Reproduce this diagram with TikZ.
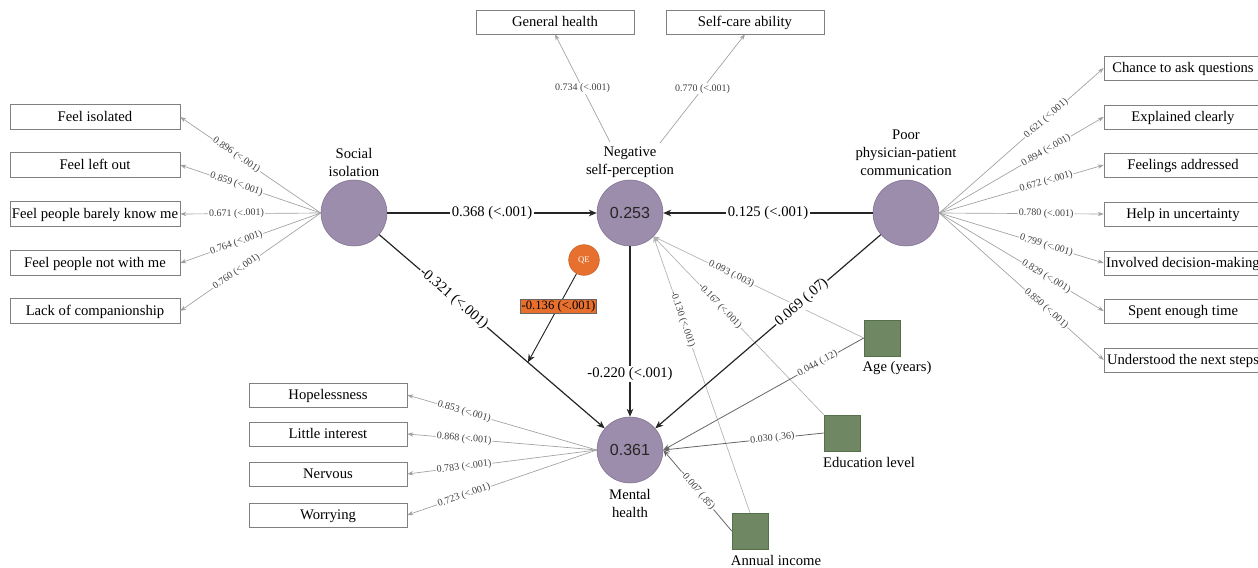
\documentclass[tikz,border=0pt]{standalone}
\usepackage{fontspec}
\setmainfont{Liberation Serif}
\newfontfamily\numfont{Liberation Sans}
\usepackage{xcolor}
\usetikzlibrary{arrows.meta,calc}

\definecolor{latfill}{HTML}{9B8DAB}
\definecolor{latline}{HTML}{7E6F8E}
\definecolor{obsfill}{HTML}{6F8763}
\definecolor{obsline}{HTML}{56704B}
\definecolor{qefill}{HTML}{E8702E}
\definecolor{loadgray}{HTML}{A0A0A0}

\tikzset{
  latent/.style={circle,draw=latline,fill=latfill,minimum size=49.5pt,inner sep=0pt,text=black!85,font=\numfont\fontsize{12}{14}\selectfont},
  item/.style={draw=gray,minimum width=127.5pt,minimum height=18.75pt,inner sep=0pt,text height=8.4pt,text depth=1.6pt,font=\fontsize{11}{13}\selectfont},
  smallitem/.style={item,minimum width=118.5pt,minimum height=18pt},
  covar/.style={draw=obsline,fill=obsfill,minimum size=27pt,inner sep=0pt},
  latname/.style={align=center,font=\fontsize{11}{13.5}\selectfont},
  covname/.style={font=\fontsize{11}{13}\selectfont},
  load/.style={draw=loadgray,line width=0.5pt,-{Stealth[length=4.5pt,width=3.2pt]}},
  loadlab/.style={fill=white,inner sep=0.8pt,text=black!75,font=\fontsize{7.5}{8}\selectfont},
  struct/.style={draw=black!85,line width=0.9pt,-{Stealth[length=6pt,width=5pt]}},
  structlab/.style={fill=white,inner sep=1pt,font=\fontsize{11}{13}\selectfont},
  ctrlneg/.style={draw=black!30,line width=0.5pt,-{Stealth[length=4.5pt,width=3.2pt]}},
  ctrlmh/.style={draw=black!60,line width=0.6pt,-{Stealth[length=5pt,width=4pt]}},
  qelab/.style={fill=qefill,draw=black!60,inner sep=1.2pt,font=\fontsize{9.5}{11}\selectfont}
}

\begin{document}
\begin{tikzpicture}[x=0.75pt,y=-0.75pt]
        \useasboundingbox (0,0) rectangle (1258,568);
        % latent variables
        \node[latent](soc) at (354,213) {};
        \node[latent](neg) at (630,213) {0.253};
        \node[latent](comm) at (906,213) {};
        \node[latent](mh) at (630,450) {0.361};
        \node[latname](soclab) at (354,162) {Social\\isolation};
        \node[latname](neglab) at (630,162) {Negative\\self-perception};
        \node[latname](commlab) at (906,153) {Poor\\physician-patient\\communication};
        \node[latname](mhlab) at (630,503) {Mental\\health};
        \coordinate(npa) at (610,142);
        \coordinate(npb) at (660,143);
        % indicators
        \node[item](fi) at (95,117) {Feel isolated};
        \node[item](flo) at (95,165) {Feel left out};
        \node[item](fbk) at (95,214) {Feel people barely know me};
        \node[item](fnw) at (95,263) {Feel people not with me};
        \node[item](lc) at (95,311) {Lack of companionship};
        \node[smallitem](gh) at (555,22) {General health};
        \node[smallitem](sca) at (745,22) {Self-care ability};
        \node[smallitem](caq) at (1183,68) {Chance to ask questions};
        \node[smallitem](ec) at (1183,117) {Explained clearly};
        \node[smallitem](fa) at (1183,165) {Feelings addressed};
        \node[smallitem](hu) at (1183,214) {Help in uncertainty};
        \node[smallitem](idm) at (1183,263) {Involved decision-making};
        \node[smallitem](set) at (1183,311) {Spent enough time};
        \node[smallitem](uns) at (1183,360) {Understood the next steps};
        \node[smallitem](hop) at (328,395) {Hopelessness};
        \node[smallitem](li) at (328,434) {Little interest};
        \node[smallitem](nerv) at (328,474) {Nervous};
        \node[smallitem](wor) at (328,515) {Worrying};
        % controls
        \node[covar](age) at (882,338) {};
        \node[covname](agelab) at (897,368) {Age (years)};
        \node[covar](edu) at (842,433) {};
        \node[covname](edulab) at (869,462) {Education level};
        \node[covar](inc) at (750,531) {};
        \node[covname](inclab) at (776,560) {Annual income};
        \node[circle,fill=qefill,draw=qefill!85!black,minimum size=23pt,inner sep=0pt,text=white,font=\fontsize{6.5}{7}\selectfont](qe) at (584,260) {QE};
        \coordinate(mod) at ($(soc)!0.63!(mh)$);
        % loadings
        \draw[load](soc.west)--node[loadlab,sloped,pos=0.6]{0.896 (<.001)}(fi.east);
        \draw[load](soc.west)--node[loadlab,sloped,pos=0.6]{0.859 (<.001)}(flo.east);
        \draw[load](soc.west)--node[loadlab,sloped,pos=0.6]{0.671 (<.001)}(fbk.east);
        \draw[load](soc.west)--node[loadlab,sloped,pos=0.6]{0.764 (<.001)}(fnw.east);
        \draw[load](soc.west)--node[loadlab,sloped,pos=0.6]{0.760 (<.001)}(lc.east);
        \draw[load](npa)--node[loadlab]{0.734 (<.001)}(gh.south);
        \draw[load](npb)--node[loadlab]{0.770 (<.001)}(sca.south);
        \draw[load](comm.east)--node[loadlab,sloped,pos=0.65]{0.621 (<.001)}(caq.west);
        \draw[load](comm.east)--node[loadlab,sloped,pos=0.65]{0.894 (<.001)}(ec.west);
        \draw[load](comm.east)--node[loadlab,sloped,pos=0.65]{0.672 (<.001)}(fa.west);
        \draw[load](comm.east)--node[loadlab,sloped,pos=0.65]{0.780 (<.001)}(hu.west);
        \draw[load](comm.east)--node[loadlab,sloped,pos=0.65]{0.799 (<.001)}(idm.west);
        \draw[load](comm.east)--node[loadlab,sloped,pos=0.65]{0.829 (<.001)}(set.west);
        \draw[load](comm.east)--node[loadlab,sloped,pos=0.65]{0.850 (<.001)}(uns.west);
        \draw[load](mh.west)--node[loadlab,sloped,pos=0.7]{0.853 (<.001)}(hop.east);
        \draw[load](mh.west)--node[loadlab,sloped,pos=0.7]{0.868 (<.001)}(li.east);
        \draw[load](mh.west)--node[loadlab,sloped,pos=0.7]{0.783 (<.001)}(nerv.east);
        \draw[load](mh.west)--node[loadlab,sloped,pos=0.7]{0.723 (<.001)}(wor.east);
        % control paths
        \draw[ctrlneg](age.west)--node[loadlab,sloped,pos=0.63]{0.093 (.003)}(neg.south east);
        \draw[ctrlneg](edu.north west)--node[loadlab,sloped,pos=0.61]{-0.167 (<.001)}(neg.south east);
        \draw[ctrlneg](inc.north)--node[loadlab,sloped,pos=0.7]{-0.130 (<.001)}(neg.south east);
        \draw[ctrlmh](age.west)--node[loadlab,sloped,pos=0.23]{0.044 (.12)}(mh.east);
        \draw[ctrlmh](edu.west)--node[loadlab,sloped,pos=0.32]{0.030 (.36)}(mh.east);
        \draw[ctrlmh](inc.west)--node[loadlab,sloped,pos=0.5]{-0.007 (.85)}(mh.east);
        % structural paths
        \draw[struct](soc)--node[structlab]{0.368 (<.001)}(neg);
        \draw[struct](comm)--node[structlab]{0.125 (<.001)}(neg);
        \draw[struct](soc)--node[structlab,sloped,pos=0.33]{-0.321 (<.001)}(mh);
        \draw[struct](neg)--node[structlab,pos=0.75]{-0.220 (<.001)}(mh);
        \draw[struct](comm)--node[structlab,sloped,pos=0.35]{0.069 (.07)}(mh);
        \draw[struct,line width=0.7pt](qe)--node[qelab,pos=0.37]{-0.136 (<.001)}(mod);
\end{tikzpicture}
\end{document}
